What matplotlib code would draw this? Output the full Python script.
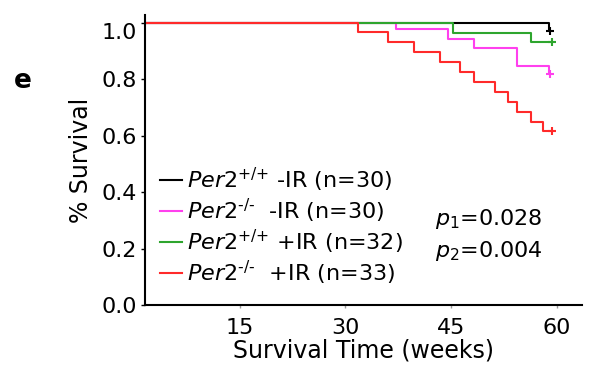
import matplotlib
matplotlib.use('Agg')
import matplotlib.pyplot as plt
import matplotlib.transforms as mtrans

plt.rcParams['font.family'] = ['DejaVu Sans']
plt.rcParams['mathtext.fontset'] = 'dejavusans'

# survival curves (weeks, fraction surviving), step after each time
wt_noir_t = [0, 58.9, 59.1]
wt_noir_s = [1.0, 0.970, 0.970]

ko_noir_t = [0, 37.2, 44.5, 48.2, 54.3, 58.9, 59.1]
ko_noir_s = [1.0, 0.976, 0.943, 0.911, 0.847, 0.817, 0.817]

wt_ir_t = [0, 45.3, 56.3, 59.4]
wt_ir_s = [1.0, 0.965, 0.930, 0.930]

ko_ir_t = [0, 31.8, 36.1, 39.7, 43.4, 46.3, 48.2, 51.3, 53.1, 54.3, 56.4, 58.1, 59.3]
ko_ir_s = [1.0, 0.967, 0.930, 0.895, 0.859, 0.825, 0.791, 0.755, 0.720, 0.684,
           0.649, 0.616, 0.616]

labels = [r'$\mathit{Per2}^{\text{+/+}}$ -IR (n=30)',
          r'$\mathit{Per2}^{\text{-/-}}$  -IR (n=30)',
          r'$\mathit{Per2}^{\text{+/+}}$ +IR (n=32)',
          r'$\mathit{Per2}^{\text{-/-}}$  +IR (n=33)']
colors = ['black', '#ff40ee', '#2ea52e', '#ff2a2a']
p_texts = [r'$p_1$=0.028', r'$p_2$=0.004']

x_ticks = [15, 30, 45, 60]
y_ticks = [0.0, 0.2, 0.4, 0.6, 0.8, 1.0]

fig = plt.figure(figsize=(5.89, 3.81), dpi=100)
ax = fig.add_axes([145 / 589, 76 / 381, 437 / 589, 290 / 381])

series = [(wt_noir_t, wt_noir_s), (ko_noir_t, ko_noir_s),
          (wt_ir_t, wt_ir_s), (ko_ir_t, ko_ir_s)]
handles = []
for (t, s), c, lab in zip(series, colors, labels):
    h, = ax.step(t, s, where='post', color=c, lw=1.5, label=lab)
    ax.plot(t[-1], s[-1], marker='+', color=c, ms=6, mew=1.5)
    handles.append(h)

ax.set_xlim(1.52, 63.6)
ax.set_ylim(0, 1.027)
ax.set_xticks(x_ticks)
ax.set_yticks(y_ticks)
ax.set_yticklabels(['%.1f' % v for v in y_ticks])
ax.tick_params(labelsize=16, width=1)
ax.tick_params(axis='x', length=2, pad=7, color='#999999')
ax.tick_params(axis='y', length=3, pad=3)
for side in ['top', 'right']:
    ax.spines[side].set_visible(False)
for side in ['left', 'bottom']:
    ax.spines[side].set_linewidth(1.5)

# the top label sits a little below its tick in the original
top_lab = ax.get_yticklabels()[-1]
top_lab.set_transform(top_lab.get_transform()
                      + mtrans.ScaledTranslation(0, -0.08, fig.dpi_scale_trans))

ax.set_xlabel('Survival Time (weeks)', fontsize=17, labelpad=1)
ax.set_ylabel('% Survival', fontsize=17, labelpad=6)

ax.legend(handles, labels, loc='upper left', bbox_to_anchor=(0.034, 0.48),
          frameon=False, fontsize=16, handlelength=1.0, handletextpad=0.2,
          labelspacing=0.12, borderpad=0, borderaxespad=0)

ax.text(0.664, 0.276, p_texts[0], transform=ax.transAxes, fontsize=16, va='baseline')
ax.text(0.664, 0.166, p_texts[1], transform=ax.transAxes, fontsize=16, va='baseline')

fig.text(23 / 589, 1 - 81 / 381, 'e', fontsize=19, fontweight='bold',
         ha='center', va='center')

fig.savefig('out.png', dpi=100)
